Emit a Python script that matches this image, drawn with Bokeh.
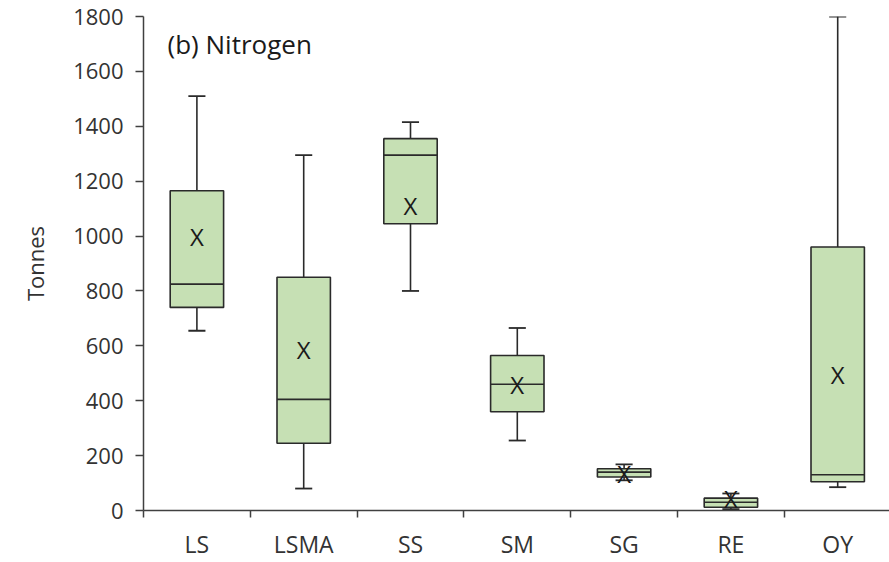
from bokeh.plotting import figure
from bokeh.models import ColumnDataSource, FixedTicker, Range1d, Label
from bokeh.core.properties import value
from bokeh.embed import file_html
from bokeh.resources import INLINE

categories = ["LS", "LSMA", "SS", "SM", "SG", "RE", "OY"]
mins    = [655, 80, 800, 255, 110, 5, 85]
q1s     = [740, 245, 1045, 360, 122, 12, 105]
medians = [825, 405, 1295, 460, 140, 30, 130]
q3s     = [1165, 850, 1355, 565, 152, 45, 960]
maxs    = [1510, 1295, 1415, 665, 168, 62, 1800]
means   = [1000, 585, 1110, 460, 135, 42, 495]
y_ticks = [0, 200, 400, 600, 800, 1000, 1200, 1400, 1600, 1800]

xs = [i + 0.5 for i in range(len(categories))]
bw = 0.5
cw = 0.16

src = ColumnDataSource(dict(
    x=xs, mn=mins, q1=q1s, med=medians, q3=q3s, mx=maxs, mean=means,
    bl=[x - bw / 2 for x in xs], br=[x + bw / 2 for x in xs],
    cl=[x - cw / 2 for x in xs], cr=[x + cw / 2 for x in xs],
    lab=["X"] * len(xs),
))

p = figure(width=889, height=562, output_backend="svg", toolbar_location=None,
           x_range=Range1d(0, 6.985), y_range=Range1d(0, 1800),
           min_border_left=143, min_border_right=0, min_border_top=16,
           min_border_bottom=52)
p.outline_line_color = None
p.xgrid.grid_line_color = None
p.ygrid.grid_line_color = None
p.background_fill_color = "white"
p.border_fill_color = "white"

line_col = "#2a2a2a"

# whiskers
p.segment(x0="x", y0="q3", x1="x", y1="mx", source=src, line_color=line_col, line_width=1.6)
p.segment(x0="x", y0="mn", x1="x", y1="q1", source=src, line_color=line_col, line_width=1.6)
# caps
p.segment(x0="cl", y0="mx", x1="cr", y1="mx", source=src, line_color=line_col, line_width=1.8)
p.segment(x0="cl", y0="mn", x1="cr", y1="mn", source=src, line_color=line_col, line_width=1.8)
# boxes
p.vbar(x="x", width=bw, top="q3", bottom="q1", source=src,
       fill_color="#C6E0B4", line_color=line_col, line_width=1.6)
# medians
p.segment(x0="bl", y0="med", x1="br", y1="med", source=src, line_color=line_col, line_width=1.6)
# means
p.text(x="x", y="mean", text="lab", source=src, text_align="center", text_baseline="middle",
       text_font=value("Open Sans"), text_font_size="24px", text_color="#1a1a1a")

p.add_layout(Label(x=0.225, y=1701, text="(b) Nitrogen", text_font="Open Sans",
                   text_font_size="26px", text_color="#1a1a1a", text_baseline="middle"))

# x axis
xa = p.xaxis[0]
xa.ticker = FixedTicker(ticks=xs, minor_ticks=[0, 1, 2, 3, 4, 5, 6, 7])
xa.major_label_overrides = {x: c for x, c in zip(xs, categories)}
xa.major_tick_out = 0
xa.major_tick_in = 0
xa.minor_tick_out = 7
xa.minor_tick_in = 0
xa.minor_tick_line_color = "#404040"
xa.minor_tick_line_width = 1.5
xa.axis_line_color = "#404040"
xa.axis_line_width = 1.5
xa.major_label_standoff = 10
xa.major_label_text_font = "Open Sans"
xa.major_label_text_font_size = "23px"
xa.major_label_text_color = "#333333"

# y axis
ya = p.yaxis[0]
ya.ticker = FixedTicker(ticks=y_ticks)
ya.minor_tick_line_color = None
ya.major_tick_out = 8
ya.major_tick_in = 0
ya.major_tick_line_color = "#404040"
ya.major_tick_line_width = 1.5
ya.axis_line_color = "#404040"
ya.axis_line_width = 1.5
ya.major_label_standoff = 12
ya.major_label_text_font = "Open Sans"
ya.major_label_text_font_size = "22px"
ya.major_label_text_color = "#333333"
ya.axis_label = "Tonnes"
ya.axis_label_text_font = "Open Sans"
ya.axis_label_text_font_style = "normal"
ya.axis_label_text_font_size = "22px"
ya.axis_label_text_color = "#333333"
ya.axis_label_standoff = 20

open("out.html", "w").write(file_html(p, INLINE))
